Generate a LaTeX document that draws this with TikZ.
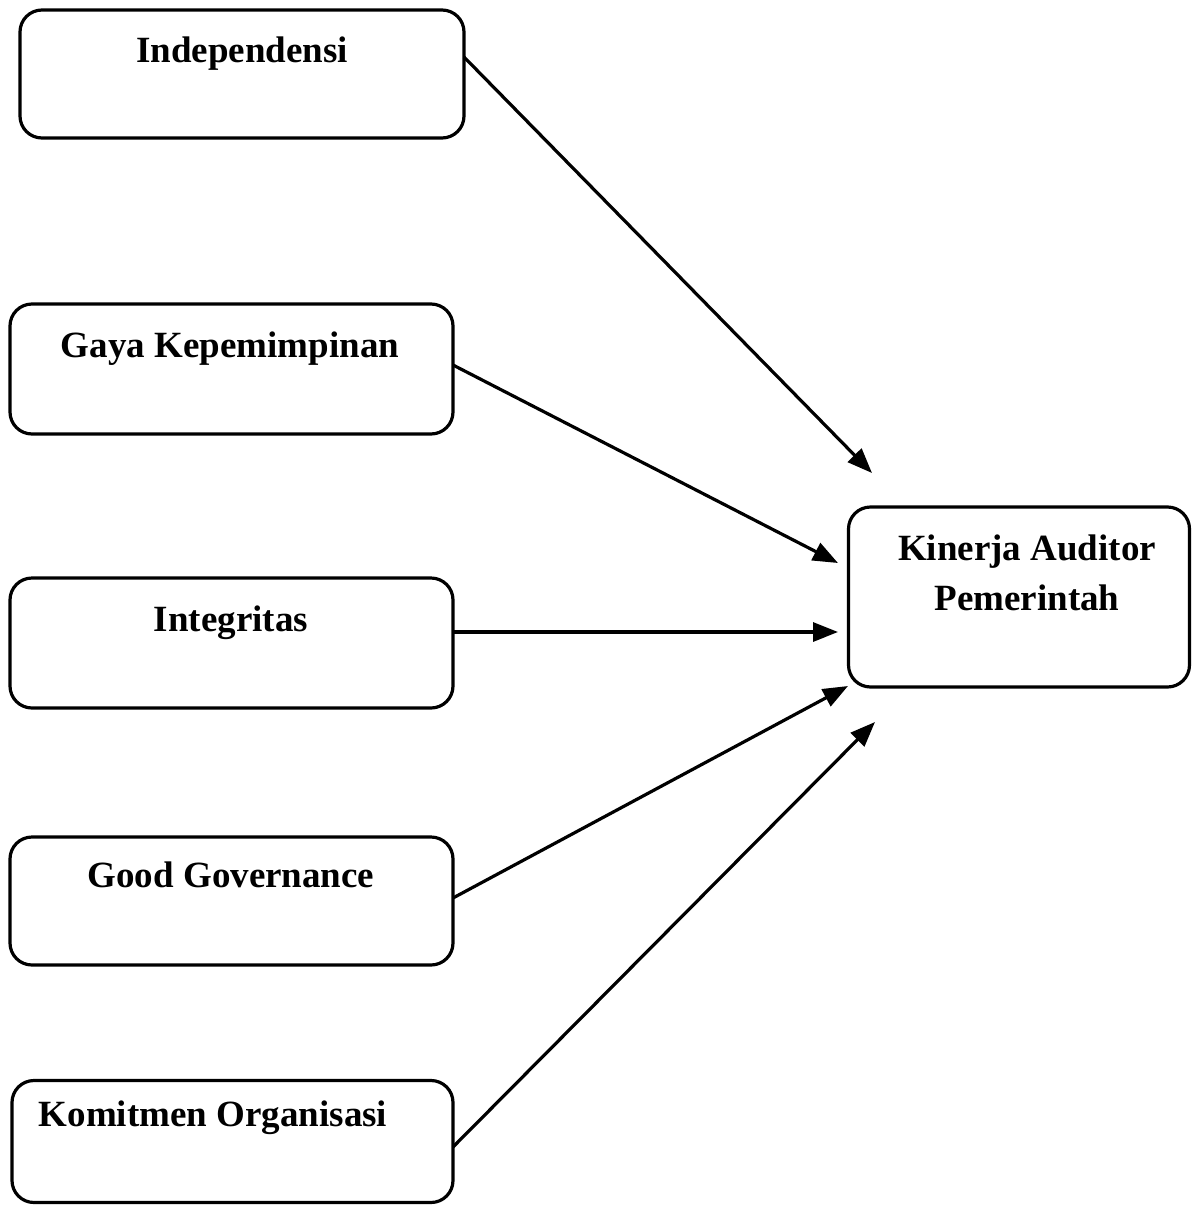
\documentclass[tikz,border=0pt]{standalone}
\usepackage{fontspec}
\setmainfont{Liberation Serif}
\usetikzlibrary{arrows.meta}
\begin{document}
\begin{tikzpicture}[x=1pt,y=-1pt,
  box/.style={draw=black, line width=3.2pt, rounded corners=22pt, inner sep=0pt, outer sep=0pt},
  lbl/.style={font=\fontsize{37}{44}\selectfont\bfseries, inner sep=0pt, anchor=base},
  conn/.style={draw=black, line width=3.2pt, -{Triangle[length=25pt,width=19pt]}}]
\useasboundingbox (0,0) rectangle (1192,1205);
% boxes
\node[box, minimum width=444pt, minimum height=128pt] (b1) at (242,74) {};
\node[box, minimum width=443pt, minimum height=130pt] (b2) at (231.5,369) {};
\node[box, minimum width=443pt, minimum height=130pt] (b3) at (231.5,643) {};
\node[box, minimum width=443pt, minimum height=128pt] (b4) at (231.5,901) {};
\node[box, minimum width=441pt, minimum height=122pt] (b5) at (232.5,1141.5) {};
\node[box, minimum width=341pt, minimum height=180pt] (k) at (1019,597) {};
% labels
\node[lbl] (t1) at (242,62) {Independensi};
\node[lbl] (t2) at (230,357) {Gaya Kepemimpinan};
\node[lbl] (t3) at (231,631) {Integritas};
\node[lbl] (t4) at (231,887) {Good Governance};
\node[lbl] (t5) at (213,1126) {Komitmen Organisasi};
\node[lbl] (k1) at (1027,560) {Kinerja Auditor};
\node[lbl] (k2) at (1027,610) {Pemerintah};
% arrow end points
\coordinate (e1) at (872,473);
\coordinate (e2) at (838,563);
\coordinate (e3) at (838,632);
\coordinate (e4) at (848,686);
\coordinate (e5) at (875,722);
% connectors
\draw[conn] ([yshift=17pt]b1.east) -- (e1);
\draw[conn] ([yshift=4pt]b2.east) -- (e2);
\draw[conn] ([yshift=11pt]b3.east) -- (e3);
\draw[conn] ([yshift=3pt]b4.east) -- (e4);
\draw[conn] ([yshift=-5.5pt]b5.east) -- (e5);
\end{tikzpicture}
\end{document}
